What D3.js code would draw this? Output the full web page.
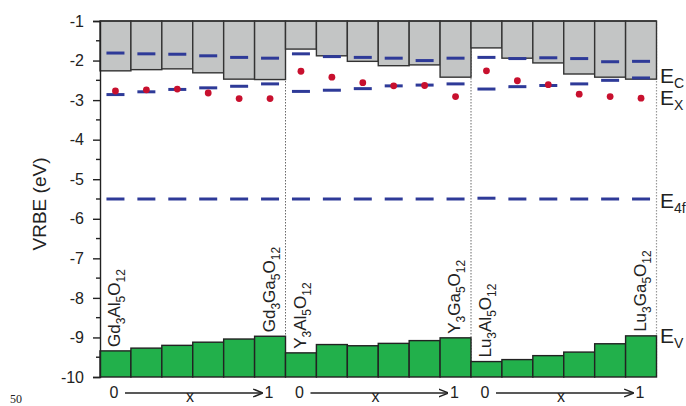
<!DOCTYPE html>
<html>
<head>
<meta charset="utf-8">
<script src="https://cdn.jsdelivr.net/npm/d3@7"></script>
<style>
  body { margin: 0; background: #fff; }
  svg { font-family: "Liberation Sans", Arial, sans-serif; }
</style>
</head>
<body>
<div id="chart"></div>
<script>
const width = 686;
const height = 406;
const margin = { top: 21, right: 30, bottom: 29, left: 100 };

// garnet families, 6 compositions each (x = 0 ... 1)
const families = ["Gd", "Y", "Lu"];
const labelsFirst = [["Gd", "3", "Al", "5", "O", "12"], ["Y", "3", "Al", "5", "O", "12"], ["Lu", "3", "Al", "5", "O", "12"]];
const labelsLast = [["Gd", "3", "Ga", "5", "O", "12"], ["Y", "3", "Ga", "5", "O", "12"], ["Lu", "3", "Ga", "5", "O", "12"]];

// bottom of conduction band (grey boxes)
const cbBottom = [
  -2.26, -2.23, -2.21, -2.31, -2.47, -2.48,
  -1.71, -1.88, -2.02, -2.13, -2.11, -2.42,
  -1.68, -1.94, -2.06, -2.34, -2.42, -2.47
];
// Ec dashes inside the grey boxes
const ecDash = [
  -1.81, -1.83, -1.84, -1.88, -1.92, -1.94,
  -1.83, -1.90, -1.92, -1.94, -2.00, -1.94,
  -1.92, -1.95, -1.93, -1.95, -2.03, -2.02
];
// Ex dashes
const exDash = [
  -2.86, -2.79, -2.73, -2.69, -2.65, -2.59,
  -2.78, -2.75, -2.71, -2.64, -2.62, -2.59,
  -2.72, -2.66, -2.63, -2.59, -2.50, -2.44
];
// Ex dots
const exDots = [
  -2.77, -2.74, -2.72, -2.82, -2.96, -2.96,
  -2.27, -2.42, -2.56, -2.64, -2.63, -2.91,
  -2.26, -2.51, -2.61, -2.85, -2.91, -2.95
];
// E4f dashes
const e4f = [
  -5.50, -5.50, -5.50, -5.50, -5.50, -5.50,
  -5.50, -5.50, -5.50, -5.50, -5.50, -5.50,
  -5.48, -5.50, -5.50, -5.50, -5.50, -5.50
];
// top of valence band (green boxes)
const evTop = [
  -9.34, -9.27, -9.20, -9.12, -9.04, -8.97,
  -9.39, -9.18, -9.21, -9.15, -9.08, -9.01,
  -9.61, -9.56, -9.46, -9.37, -9.16, -8.96
];
const yTicks = [-1, -2, -3, -4, -5, -6, -7, -8, -9, -10];

const x = d3.scaleBand()
  .domain(d3.range(cbBottom.length))
  .range([margin.left, width - margin.right + 0.5])
  .padding(0);
const bw = x.bandwidth();
const y = d3.scaleLinear()
  .domain([-10, -1])
  .range([height - margin.bottom, margin.top]);

const svg = d3.select("#chart")
  .append("svg")
  .attr("width", width)
  .attr("height", height);

// dotted separators between families (drawn under the boxes)
const seps = [6, 12];
svg.append("g")
  .selectAll("line")
  .data(seps)
  .join("line")
    .attr("x1", i => x(i)).attr("x2", i => x(i))
    .attr("y1", y(-1)).attr("y2", y(-10))
    .attr("stroke", "#444")
    .attr("stroke-width", 0.8)
    .attr("stroke-dasharray", "1.5,1.5");
svg.append("line")
  .attr("x1", x(17) + bw).attr("x2", x(17) + bw)
  .attr("y1", y(-1)).attr("y2", y(-10))
  .attr("stroke", "#999")
  .attr("stroke-width", 1.2)
  .attr("stroke-dasharray", "1.5,1.5");

// conduction band boxes
svg.append("g")
  .selectAll("rect")
  .data(cbBottom)
  .join("rect")
    .attr("x", (d, i) => x(i))
    .attr("y", y(-1))
    .attr("width", bw)
    .attr("height", d => y(d) - y(-1))
    .attr("fill", "#c3c5c5")
    .attr("stroke", "#333")
    .attr("stroke-width", 1.4);

// valence band boxes
svg.append("g")
  .selectAll("rect")
  .data(evTop)
  .join("rect")
    .attr("x", (d, i) => x(i))
    .attr("y", d => y(d))
    .attr("width", bw)
    .attr("height", d => y(-10) - y(d))
    .attr("fill", "#22b04b")
    .attr("stroke", "#222")
    .attr("stroke-width", 1.4);

// dashed levels
function dashes(values) {
  svg.append("g")
    .selectAll("line")
    .data(values)
    .join("line")
      .attr("x1", (d, i) => x(i) + bw / 2 - 9)
      .attr("x2", (d, i) => x(i) + bw / 2 + 9)
      .attr("y1", d => y(d))
      .attr("y2", d => y(d))
      .attr("stroke", "#2e3a98")
      .attr("stroke-width", 3);
}
dashes(ecDash);
dashes(exDash);
dashes(e4f);

// exciton dots
svg.append("g")
  .selectAll("circle")
  .data(exDots)
  .join("circle")
    .attr("cx", (d, i) => x(i) + bw / 2)
    .attr("cy", d => y(d))
    .attr("r", 3.4)
    .attr("fill", "#c8102e");

// y axis
const yAxis = svg.append("g")
  .attr("transform", `translate(${margin.left},0)`)
  .call(d3.axisLeft(y).tickValues(yTicks).tickSize(7).tickPadding(9).tickFormat(d => d));
yAxis.select(".domain").attr("stroke", "#222").attr("stroke-width", 1.4);
yAxis.selectAll(".tick line").attr("stroke", "#222").attr("stroke-width", 1.4);
yAxis.selectAll(".tick text").attr("font-size", 16).attr("fill", "#222").attr("font-family", "Liberation Sans, Arial, sans-serif");
svg.append("g")
  .selectAll("line")
  .data(d3.range(-9.5, -1, 1))
  .join("line")
    .attr("x1", margin.left - 4).attr("x2", margin.left)
    .attr("y1", d => y(d)).attr("y2", d => y(d))
    .attr("stroke", "#222").attr("stroke-width", 1.4);
svg.append("line")
  .attr("x1", margin.left).attr("x2", x(17) + bw)
  .attr("y1", y(-1)).attr("y2", y(-1))
  .attr("stroke", "#333").attr("stroke-width", 1.4);

svg.append("text")
  .attr("transform", `translate(46,${(y(-1) + y(-10)) / 2 + 5}) rotate(-90)`)
  .attr("text-anchor", "middle")
  .attr("font-size", 19)
  .attr("fill", "#222")
  .text("VRBE (eV)");

// compound labels (rotated, with subscripts)
function formula(parts, bx, by) {
  const t = svg.append("text")
    .attr("transform", `translate(${bx},${by}) rotate(-90)`)
    .attr("font-size", 17)
    .attr("fill", "#222");
  parts.forEach((p, k) => {
    const sub = k % 2 === 1;
    t.append("tspan")
      .attr("font-size", sub ? 12 : 17)
      .attr("dy", sub ? 5 : (k === 0 ? 0 : -5))
      .text(p);
  });
}
families.forEach((f, g) => {
  const first = g * 6;
  const last = g * 6 + 5;
  formula(labelsFirst[g], x(first) + 20, y(evTop[first]) - 4);
  formula(labelsLast[g], x(last) + bw - 11, y(evTop[last]) - 4);
});

// composition arrows under each family
svg.append("defs").append("marker")
  .attr("id", "arrow")
  .attr("viewBox", "0 0 10 10")
  .attr("refX", 9).attr("refY", 5)
  .attr("markerWidth", 7).attr("markerHeight", 7)
  .attr("orient", "auto")
  .append("path")
    .attr("d", "M0,1 L10,5 L0,9")
    .attr("fill", "none")
    .attr("stroke", "#222")
    .attr("stroke-width", 1.5);

families.forEach((f, g) => {
  const x0 = x(g * 6);
  const ax = svg.append("g").attr("fill", "#222").attr("font-size", 16);
  ax.append("text").attr("x", x0 + 14).attr("y", 398).attr("text-anchor", "middle").text("0");
  ax.append("line")
    .attr("x1", x0 + 25).attr("x2", x0 + 162)
    .attr("y1", 393).attr("y2", 393)
    .attr("stroke", "#222").attr("stroke-width", 1.4)
    .attr("marker-end", "url(#arrow)");
  ax.append("text").attr("x", x0 + 169).attr("y", 398).attr("text-anchor", "middle").text("1");
  ax.append("text").attr("x", x0 + 90).attr("y", 402).attr("text-anchor", "middle").text("x");
});

// band labels on the right
const bandLabels = [
  { main: "E", sub: "C", yy: 83 },
  { main: "E", sub: "X", yy: 105 },
  { main: "E", sub: "4f", yy: 208 },
  { main: "E", sub: "V", yy: 343 }
];
bandLabels.forEach(b => {
  const t = svg.append("text")
    .attr("x", 660).attr("y", b.yy)
    .attr("font-size", 21).attr("fill", "#222");
  t.append("tspan").text(b.main);
  t.append("tspan").attr("font-size", 14).attr("dy", 5).text(b.sub);
});

// page number
svg.append("text")
  .attr("x", 10).attr("y", 403)
  .attr("font-family", "Liberation Serif, serif")
  .attr("font-size", 12)
  .attr("fill", "#222")
  .text("50");
</script>
</body>
</html>
